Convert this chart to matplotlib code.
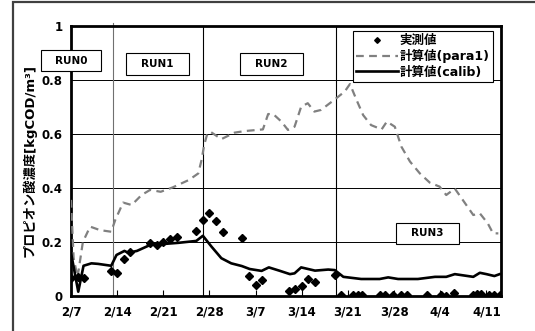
import matplotlib
matplotlib.use("Agg")
import matplotlib.pyplot as plt
from matplotlib.patches import Rectangle

plt.rcParams["font.family"] = ["DejaVu Sans", "Noto Sans CJK JP"]
plt.rcParams["font.weight"] = "bold"

# days counted from 2/7
obs_day = [0, 1, 2, 6, 7, 8, 9, 12, 13, 14, 15, 16, 19, 20, 21, 22, 23, 26,
           27, 28, 29, 33, 34, 35, 36, 37, 40, 41, 42.8, 43.5, 44.1, 46.8,
           47.6, 48.8, 50.1, 51.0, 54.0, 56.1, 56.8, 58.1, 60.9, 61.5, 62.2,
           63.4, 64.2, 65.0]
obs_val = [0.067, 0.070, 0.065, 0.094, 0.086, 0.136, 0.164, 0.197, 0.189,
           0.200, 0.211, 0.217, 0.240, 0.281, 0.307, 0.278, 0.238, 0.216,
           0.074, 0.042, 0.058, 0.018, 0.026, 0.036, 0.062, 0.053, 0.078,
           0.004, 0.003, 0.003, 0.003, 0.003, 0.003, 0.003, 0.003, 0.003,
           0.003, 0.003, 0.0, 0.012, 0.003, 0.006, 0.006, 0.003, 0.003, 0.003]

para_day = [0, 0.4, 1.0, 1.8, 2.9, 4.4, 6.1, 6.7, 7.9, 9.2, 10.7, 12, 13.6,
            15.4, 17.9, 19.3, 19.8, 20.2, 20.6, 21.1, 22.8, 24.8, 26.4, 29.1,
            29.9, 30.7, 31.9, 32.9, 33.9, 34.9, 35.9, 36.9, 37.9, 40, 41.5,
            42.3, 43.3, 44.3, 45.5, 47.1, 47.9, 49.1, 50.1, 51.4, 52.9, 54.4,
            55.9, 56.9, 58.2, 59.4, 61, 62, 63.2, 64, 64.8]
para_val = [0.356, 0.14, 0.07, 0.20, 0.257, 0.244, 0.238, 0.281, 0.346,
            0.337, 0.374, 0.393, 0.386, 0.402, 0.430, 0.454, 0.504, 0.560,
            0.595, 0.609, 0.581, 0.605, 0.611, 0.617, 0.674, 0.673, 0.646,
            0.615, 0.627, 0.701, 0.714, 0.683, 0.689, 0.728, 0.757, 0.785,
            0.726, 0.670, 0.633, 0.617, 0.646, 0.627, 0.553, 0.498, 0.454,
            0.420, 0.405, 0.374, 0.398, 0.356, 0.300, 0.306, 0.269, 0.232,
            0.232]

calib_day = [0, 1.1, 1.9, 3.1, 4.1, 6.1, 6.9, 8.1, 8.7, 10, 12, 14.2, 16.3,
             19, 20, 21.3, 22.8, 24.3, 25.9, 27.1, 28.9, 30, 31.7, 33.2, 33.9,
             34.9, 37, 39, 40, 41.3, 44, 46.8, 48.1, 49.6, 52.6, 55.2, 56.9,
             58.2, 61, 62, 63, 64.2, 65]
calib_val = [0.160, 0.016, 0.112, 0.121, 0.119, 0.112, 0.152, 0.167, 0.160,
             0.167, 0.189, 0.193, 0.197, 0.204, 0.223, 0.183, 0.140, 0.121,
             0.111, 0.100, 0.093, 0.106, 0.093, 0.081, 0.084, 0.106, 0.094,
             0.098, 0.096, 0.071, 0.063, 0.063, 0.069, 0.063, 0.063, 0.071,
             0.071, 0.081, 0.071, 0.086, 0.081, 0.074, 0.081]

tick_day = [0, 7, 14, 21, 28, 35, 42, 49, 56, 63]
tick_lbl = ["2/7", "2/14", "2/21", "2/28", "3/7", "3/14", "3/21", "3/28",
            "4/4", "4/11"]
run_bounds = [6.4, 20.0, 40.2]
run_names = ["RUN0", "RUN1", "RUN2", "RUN3"]

fig = plt.figure(figsize=(5.35, 3.31), dpi=100)
ax = fig.add_axes([0.1327, 0.1057, 0.8037, 0.8158])

# outer chart border
fig.patches.append(Rectangle((13 / 535, -0.05), 1.0, 1 - 2 / 331 + 0.05,
                             transform=fig.transFigure, fill=False,
                             ec="#404040", lw=1.6))

ax.plot(para_day, para_val, color="#808080", lw=1.6, dashes=(3.5, 2.4),
        label="計算値(para1)", zorder=3)
ax.plot(calib_day, calib_val, color="black", lw=1.9, label="計算値(calib)",
        zorder=4)
ax.plot(obs_day, obs_val, ls="none", marker="D", ms=3.6, color="black",
        label="実測値", zorder=5)

ax.set_xlim(0, 65.2)
ax.set_ylim(0, 1)
ax.set_yticks([0, 0.2, 0.4, 0.6, 0.8, 1])
ax.set_yticklabels(["0", "0.2", "0.4", "0.6", "0.8", "1"])
ax.set_xticks(tick_day)
ax.set_xticklabels(tick_lbl)
ax.tick_params(axis="x", direction="in", length=4, width=0.8, pad=7,
               labelsize=8.5)
ax.tick_params(axis="y", length=0, pad=6, labelsize=8.5)
for lbl in ax.get_xticklabels() + ax.get_yticklabels():
    lbl.set_fontweight("bold")

for y in [0.2, 0.4, 0.6, 0.8]:
    ax.axhline(y, color="black", lw=0.7, zorder=1)
for i, x in enumerate(run_bounds):
    ax.axvline(x, ymax=1.012 if i == 0 else 1, clip_on=False,
               color="#707070" if i == 0 else "black", lw=0.8, zorder=1)

for s in ax.spines.values():
    s.set_linewidth(2.0)

ax.set_ylabel("プロピオン酸濃度[kgCOD/m³]", fontsize=9.5,
              fontweight="bold")
ax.yaxis.set_label_coords(-0.08, 0.5)

# RUN boxes (axes fraction: x0, y0, width, height)
run_boxes = [(-0.07, 0.833, 0.14, 0.078), (0.128, 0.819, 0.147, 0.081),
             (0.393, 0.819, 0.147, 0.081), (0.756, 0.193, 0.147, 0.078)]
for name, (x0, y0, w, h) in zip(run_names, run_boxes):
    ax.add_patch(Rectangle((x0, y0), w, h, transform=ax.transAxes,
                           facecolor="white", edgecolor="black", lw=0.8,
                           clip_on=False, zorder=6))
    ax.text(x0 + w / 2, y0 + h / 2, name, transform=ax.transAxes,
            ha="center", va="center", fontsize=7.5, fontweight="bold",
            zorder=7)

handles, labels = ax.get_legend_handles_labels()
order = [2, 0, 1]
leg = ax.legend([handles[i] for i in order], [labels[i] for i in order],
                loc="upper right", bbox_to_anchor=(0.981, 0.981),
                frameon=True, fancybox=False, edgecolor="black",
                framealpha=1, fontsize=9, handlelength=3.4,
                handletextpad=0.1, labelspacing=0.17, borderpad=0.25,
                borderaxespad=0, markerscale=0.8)
leg.get_frame().set_linewidth(0.8)
for t in leg.get_texts():
    t.set_fontweight("bold")
leg.set_zorder(8)

fig.savefig("out.png", dpi=100)
